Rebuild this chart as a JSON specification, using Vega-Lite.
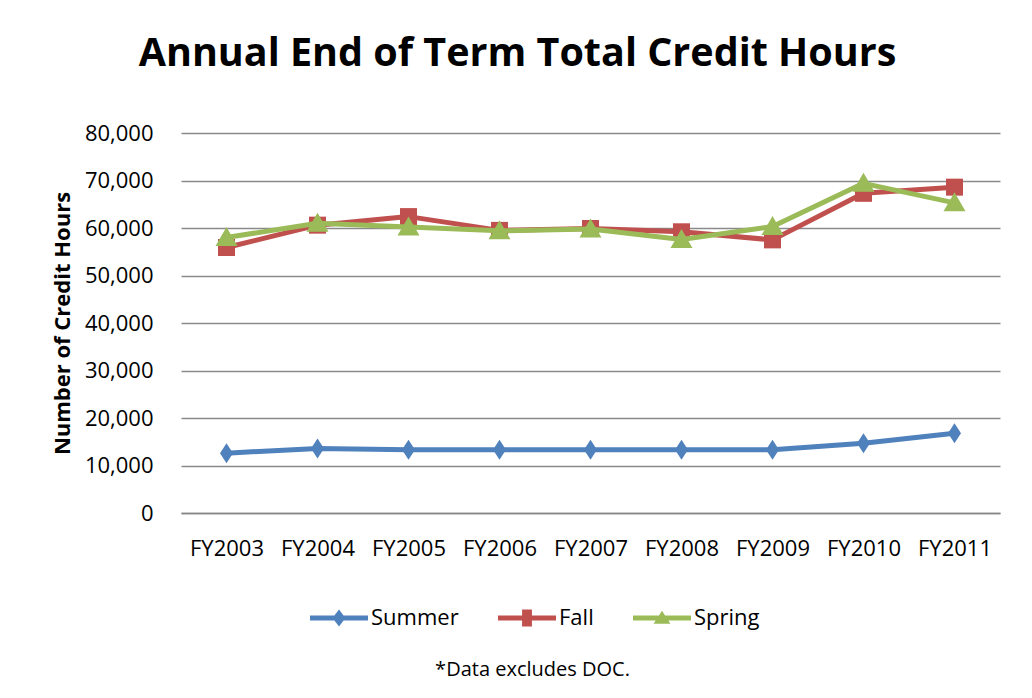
{
  "$schema": "https://vega.github.io/schema/vega-lite/v6.json",
  "autosize": "none",
  "width": 819,
  "height": 380,
  "padding": {"left": 181, "top": 133, "right": 32, "bottom": 185},
  "background": "white",
  "config": {"font": "Open Sans", "view": {"stroke": null}},
  "title": {
    "text": "Annual End of Term Total Credit Hours",
    "fontSize": 39.5,
    "fontWeight": "bold",
    "color": "#000000",
    "anchor": "middle",
    "baseline": "alphabetic",
    "offset": 17,
    "dx": -73
  },
  "data": {
    "values": [
      {"year": "FY2003", "term": "Summer", "hours": 12600},
      {"year": "FY2004", "term": "Summer", "hours": 13600},
      {"year": "FY2005", "term": "Summer", "hours": 13300},
      {"year": "FY2006", "term": "Summer", "hours": 13300},
      {"year": "FY2007", "term": "Summer", "hours": 13300},
      {"year": "FY2008", "term": "Summer", "hours": 13300},
      {"year": "FY2009", "term": "Summer", "hours": 13300},
      {"year": "FY2010", "term": "Summer", "hours": 14700},
      {"year": "FY2011", "term": "Summer", "hours": 16800},
      {"year": "FY2003", "term": "Fall", "hours": 55900},
      {"year": "FY2004", "term": "Fall", "hours": 60600},
      {"year": "FY2005", "term": "Fall", "hours": 62400},
      {"year": "FY2006", "term": "Fall", "hours": 59500},
      {"year": "FY2007", "term": "Fall", "hours": 59900},
      {"year": "FY2008", "term": "Fall", "hours": 59200},
      {"year": "FY2009", "term": "Fall", "hours": 57500},
      {"year": "FY2010", "term": "Fall", "hours": 67300},
      {"year": "FY2011", "term": "Fall", "hours": 68600},
      {"year": "FY2003", "term": "Spring", "hours": 58000},
      {"year": "FY2004", "term": "Spring", "hours": 61000},
      {"year": "FY2005", "term": "Spring", "hours": 60200},
      {"year": "FY2006", "term": "Spring", "hours": 59400},
      {"year": "FY2007", "term": "Spring", "hours": 59800},
      {"year": "FY2008", "term": "Spring", "hours": 57600},
      {"year": "FY2009", "term": "Spring", "hours": 60300},
      {"year": "FY2010", "term": "Spring", "hours": 69400},
      {"year": "FY2011", "term": "Spring", "hours": 65300}
    ]
  },
  "encoding": {
    "x": {
      "field": "year",
      "type": "ordinal",
      "scale": {"type": "point", "padding": 0.5},
      "axis": {
        "title": "*Data excludes DOC.",
        "titleFontSize": 20,
        "titleFontWeight": "normal",
        "titleColor": "#000000",
        "titleX": 351,
        "titleY": 162,
        "titleBaseline": "alphabetic",
        "labelAngle": 0,
        "labelFontSize": 22,
        "labelColor": "#000000",
        "labelPadding": 25,
        "ticks": false,
        "grid": false,
        "domainColor": "#868686",
        "domainWidth": 1.5
      }
    },
    "y": {
      "field": "hours",
      "type": "quantitative",
      "scale": {"domain": [0, 80000], "nice": false, "zero": true},
      "axis": {
        "title": "Number of Credit Hours",
        "titleFontSize": 22,
        "titleFontWeight": "bold",
        "titleColor": "#000000",
        "titleAngle": -90,
        "titleX": -119,
        "titleY": 190,
        "titleAlign": "center",
        "titleBaseline": "middle",
        "values": [0, 10000, 20000, 30000, 40000, 50000, 60000, 70000, 80000],
        "format": ",d",
        "labelFontSize": 22,
        "labelColor": "#000000",
        "labelPadding": 28,
        "ticks": false,
        "domain": false,
        "grid": true,
        "gridColor": "#8a8a8a",
        "gridWidth": 1.3
      }
    },
    "color": {
      "field": "term",
      "type": "nominal",
      "sort": ["Summer", "Fall", "Spring"],
      "scale": {"domain": ["Summer", "Fall", "Spring"], "range": ["#4F81BD", "#C0504D", "#9BBB59"]},
      "legend": {
        "title": null,
        "orient": "none",
        "direction": "horizontal",
        "legendX": 129,
        "legendY": 456,
        "symbolSize": 3364,
        "labelFontSize": 22,
        "labelColor": "#000000",
        "labelOffset": 3,
        "columnPadding": 39,
        "encode": {
          "symbols": {
            "update": {
              "shape": {"signal": "datum.value === 'Summer' ? 'M-1,-0.086L1,-0.086L1,0.086L-1,0.086Z M0,-0.29L0.224,0L0,0.29L-0.224,0Z' : datum.value === 'Fall' ? 'M-1,-0.086L1,-0.086L1,0.086L-1,0.086Z M-0.17,-0.29L0.17,-0.29L0.17,0.29L-0.17,0.29Z' : 'M-1,-0.086L1,-0.086L1,0.086L-1,0.086Z M0,-0.25L0.29,0.2L-0.29,0.2Z'"},
              "fill": {"signal": "datum.value === 'Summer' ? '#4F81BD' : datum.value === 'Fall' ? '#C0504D' : '#9BBB59'"},
              "stroke": {"value": "transparent"},
              "strokeWidth": {"value": 0},
              "opacity": {"value": 1},
              "fillOpacity": {"value": 1}
            }
          }
        }
      }
    }
  },
  "layer": [
    {
      "transform": [{"filter": "datum.term === 'Summer'"}],
      "mark": {"type": "line", "strokeWidth": 5, "strokeJoin": "round", "strokeCap": "round"}
    },
    {
      "transform": [{"filter": "datum.term === 'Summer'"}],
      "mark": {"type": "point", "filled": true, "opacity": 1, "size": 400, "shape": "M0,-1L0.65,0L0,1L-0.65,0Z"}
    },
    {
      "transform": [{"filter": "datum.term === 'Fall'"}],
      "mark": {"type": "line", "strokeWidth": 5, "strokeJoin": "round", "strokeCap": "round"}
    },
    {
      "transform": [{"filter": "datum.term === 'Fall'"}],
      "mark": {"type": "point", "filled": true, "opacity": 1, "size": 400, "shape": "M-0.85,-0.85L0.85,-0.85L0.85,0.85L-0.85,0.85Z"}
    },
    {
      "transform": [{"filter": "datum.term === 'Spring'"}],
      "mark": {"type": "line", "strokeWidth": 5, "strokeJoin": "round", "strokeCap": "round"}
    },
    {
      "transform": [{"filter": "datum.term === 'Spring'"}],
      "mark": {"type": "point", "filled": true, "opacity": 1, "size": 400, "shape": "M0,-1.05L1.1,0.85L-1.1,0.85Z"}
    }
  ]
}
